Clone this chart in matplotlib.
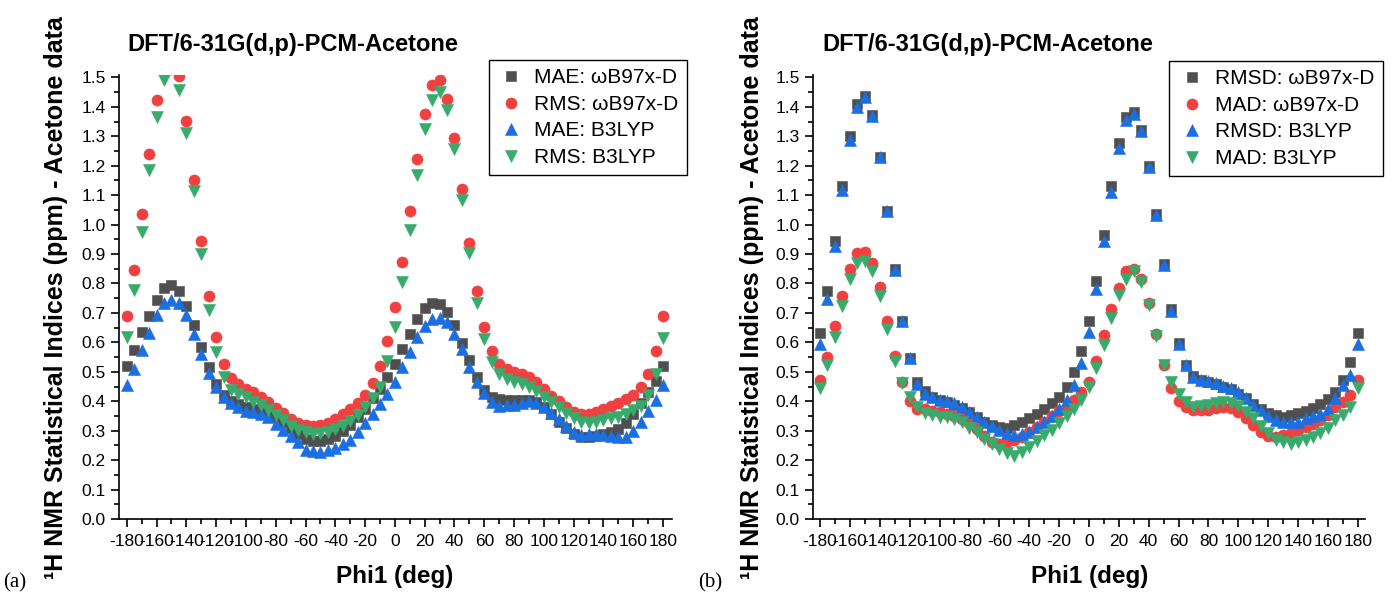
import numpy as np
import matplotlib
matplotlib.use('Agg')
import matplotlib.pyplot as plt
from matplotlib.ticker import MultipleLocator, FormatStrFormatter

plt.rcParams['font.family'] = ['Liberation Sans', 'DejaVu Sans']
plt.rcParams['axes.unicode_minus'] = False

# torsion angle grid, -180..180 every 5 deg
phi = list(range(-180, 185, 5))

# panel (a): MAE / RMS (points above 1.5 are off-scale)
a_mae_wb97 = [0.52, 0.575, 0.635, 0.69, 0.745, 0.785, 0.795, 0.775, 0.725, 0.66, 0.585, 0.515, 0.46,
              0.42, 0.40, 0.39, 0.38, 0.372, 0.365, 0.357, 0.345, 0.33, 0.31, 0.29, 0.272, 0.265, 0.265,
              0.272, 0.283, 0.30, 0.32, 0.345, 0.375, 0.41, 0.44, 0.483, 0.528, 0.579, 0.63, 0.678, 0.715,
              0.734, 0.730, 0.703, 0.658, 0.598, 0.54, 0.483, 0.437, 0.415, 0.406, 0.404, 0.404, 0.404,
              0.403, 0.398, 0.38, 0.355, 0.33, 0.308, 0.29, 0.28, 0.28, 0.283, 0.288, 0.295, 0.305, 0.325,
              0.355, 0.395, 0.432, 0.468, 0.52]
a_rms_wb97 = [0.689, 0.847, 1.037, 1.239, 1.422, 1.54, 1.56, 1.503, 1.352, 1.153, 0.943, 0.757, 0.617,
              0.528, 0.48, 0.457, 0.443, 0.43, 0.415, 0.398, 0.377, 0.36, 0.341, 0.327, 0.318, 0.315, 0.319,
              0.327, 0.338, 0.356, 0.373, 0.394, 0.422, 0.461, 0.52, 0.606, 0.72, 0.873, 1.046, 1.224, 1.377,
              1.473, 1.49, 1.428, 1.295, 1.122, 0.939, 0.776, 0.651, 0.571, 0.528, 0.51, 0.50, 0.492,
              0.482, 0.466, 0.442, 0.417, 0.40, 0.381, 0.365, 0.358, 0.358, 0.363, 0.373, 0.385, 0.395,
              0.407, 0.422, 0.45, 0.494, 0.571, 0.689]
a_mae_b3lyp = [0.455, 0.511, 0.573, 0.632, 0.692, 0.732, 0.745, 0.734, 0.692, 0.63, 0.56, 0.496, 0.449,
               0.415, 0.395, 0.379, 0.368, 0.362, 0.357, 0.345, 0.322, 0.303, 0.282, 0.26, 0.236, 0.231,
               0.228, 0.233, 0.24, 0.254, 0.27, 0.295, 0.325, 0.355, 0.39, 0.425, 0.466, 0.517, 0.568,
               0.617, 0.655, 0.678, 0.681, 0.67, 0.63, 0.576, 0.515, 0.466, 0.427, 0.398, 0.385, 0.386,
               0.388, 0.395, 0.401, 0.394, 0.38, 0.36, 0.339, 0.317, 0.294, 0.285, 0.287, 0.287, 0.284,
               0.281, 0.278, 0.278, 0.299, 0.33, 0.368, 0.405, 0.455]
a_rms_b3lyp = [0.617, 0.779, 0.975, 1.184, 1.367, 1.49, 1.53, 1.458, 1.311, 1.114, 0.899, 0.711, 0.568,
               0.483, 0.438, 0.424, 0.413, 0.398, 0.387, 0.371, 0.352, 0.335, 0.316, 0.302, 0.294, 0.29,
               0.292, 0.296, 0.305, 0.316, 0.334, 0.354, 0.38, 0.41, 0.45, 0.535, 0.652, 0.805, 0.983,
               1.167, 1.326, 1.424, 1.45, 1.388, 1.255, 1.082, 0.902, 0.734, 0.613, 0.534, 0.494, 0.475,
               0.465, 0.457, 0.449, 0.436, 0.415, 0.398, 0.379, 0.359, 0.342, 0.33, 0.327, 0.33, 0.336,
               0.342, 0.347, 0.356, 0.37, 0.385, 0.42, 0.494, 0.615]

# panel (b): RMSD / MAD
b_rmsd_wb97 = [0.632, 0.773, 0.945, 1.132, 1.302, 1.409, 1.435, 1.373, 1.231, 1.045, 0.849, 0.674, 0.547,
               0.467, 0.435, 0.414, 0.403, 0.396, 0.388, 0.377, 0.362, 0.346, 0.331, 0.32, 0.312, 0.31,
               0.318, 0.33, 0.343, 0.358, 0.373, 0.394, 0.416, 0.448, 0.498, 0.569, 0.671, 0.807, 0.965,
               1.132, 1.277, 1.365, 1.381, 1.322, 1.2, 1.037, 0.866, 0.713, 0.598, 0.524, 0.484, 0.472,
               0.465, 0.458, 0.45, 0.44, 0.425, 0.41, 0.392, 0.375, 0.36, 0.352, 0.348, 0.352, 0.36,
               0.368, 0.378, 0.392, 0.407, 0.43, 0.471, 0.532, 0.632]
b_mad_wb97 = [0.473, 0.55, 0.654, 0.756, 0.849, 0.902, 0.908, 0.869, 0.787, 0.674, 0.552, 0.467, 0.40,
              0.375, 0.372, 0.368, 0.362, 0.356, 0.35, 0.34, 0.325, 0.305, 0.283, 0.262, 0.255, 0.26,
              0.268, 0.28, 0.294, 0.312, 0.33, 0.35, 0.368, 0.382, 0.403, 0.43, 0.467, 0.535, 0.626,
              0.713, 0.786, 0.843, 0.849, 0.814, 0.735, 0.63, 0.524, 0.445, 0.40, 0.38, 0.371, 0.369,
              0.37, 0.377, 0.38, 0.377, 0.362, 0.343, 0.32, 0.297, 0.281, 0.278, 0.286, 0.292, 0.303,
              0.312, 0.324, 0.337, 0.354, 0.38, 0.396, 0.422, 0.471]
b_rmsd_b3lyp = [0.595, 0.747, 0.926, 1.116, 1.288, 1.401, 1.432, 1.369, 1.231, 1.045, 0.847, 0.672, 0.547,
                0.46, 0.425, 0.413, 0.405, 0.40, 0.394, 0.38, 0.365, 0.348, 0.331, 0.317, 0.303, 0.292,
                0.286, 0.29, 0.297, 0.312, 0.331, 0.351, 0.373, 0.405, 0.455, 0.53, 0.635, 0.78, 0.943,
                1.112, 1.26, 1.354, 1.376, 1.319, 1.195, 1.033, 0.861, 0.708, 0.596, 0.524, 0.481, 0.473,
                0.468, 0.462, 0.453, 0.445, 0.43, 0.411, 0.388, 0.369, 0.351, 0.337, 0.331, 0.331, 0.328,
                0.343, 0.351, 0.357, 0.373, 0.41, 0.456, 0.49, 0.595]
b_mad_b3lyp = [0.445, 0.524, 0.618, 0.724, 0.815, 0.871, 0.875, 0.841, 0.758, 0.645, 0.535, 0.462, 0.416,
               0.38, 0.36, 0.352, 0.347, 0.345, 0.34, 0.328, 0.31, 0.294, 0.272, 0.254, 0.238, 0.225,
               0.213, 0.227, 0.245, 0.265, 0.285, 0.303, 0.326, 0.35, 0.375, 0.405, 0.45, 0.513, 0.592,
               0.683, 0.762, 0.815, 0.841, 0.805, 0.726, 0.621, 0.524, 0.465, 0.425, 0.398, 0.38, 0.385,
               0.388, 0.394, 0.396, 0.394, 0.385, 0.365, 0.343, 0.317, 0.292, 0.269, 0.26, 0.256, 0.26,
               0.267, 0.278, 0.292, 0.309, 0.337, 0.354, 0.38, 0.445]

labels_a = ['MAE: ωB97x-D', 'RMS: ωB97x-D', 'MAE: B3LYP', 'RMS: B3LYP']
labels_b = ['RMSD: ωB97x-D', 'MAD: ωB97x-D', 'RMSD: B3LYP', 'MAD: B3LYP']
title = 'DFT/6-31G(d,p)-PCM-Acetone'
ylabel = '¹H NMR Statistical Indices (ppm) - Acetone data'

colors = ['#4F4F4F', '#F04040', '#1B6FE0', '#38AA6B']
markers = ['s', 'o', '^', 'v']
msizes = [7.6, 8.0, 8.8, 8.8]

W, H = 1393, 594
fig = plt.figure(figsize=(W / 100, H / 100), dpi=100)


def draw_panel(ax, series, labels, xlim, leg_anchor):
    for vals, lab, c, m, s in zip(series, labels, colors, markers, msizes):
        assert len(vals) == len(phi)
        ax.plot(phi, vals, ls='none', marker=m, ms=s, color=c, mec=c, mew=0.4, label=lab)
    ax.set_xlim(*xlim)
    ax.set_ylim(0, 1.508)
    ax.spines['top'].set_visible(False)
    ax.spines['right'].set_visible(False)
    for sp in ('left', 'bottom'):
        ax.spines[sp].set_linewidth(1.2)
    ax.set_xticks(range(-180, 181, 20))
    ax.xaxis.set_minor_locator(MultipleLocator(10))
    ax.yaxis.set_major_locator(MultipleLocator(0.1))
    ax.yaxis.set_minor_locator(MultipleLocator(0.05))
    ax.yaxis.set_major_formatter(FormatStrFormatter('%.1f'))
    ax.tick_params(which='major', direction='out', length=6, width=1.2, labelsize=12.5)
    ax.tick_params(which='minor', direction='out', length=3.5, width=1.2)
    ax.tick_params(axis='x', pad=5)
    leg = ax.legend(loc='upper right', bbox_to_anchor=leg_anchor, bbox_transform=fig.transFigure,
                    borderaxespad=0, fancybox=False, framealpha=1, edgecolor='black',
                    fontsize=15, labelspacing=0.36, handletextpad=0.4, handlelength=1.4,
                    borderpad=0.4)
    leg.get_frame().set_linewidth(1.0)


ax1 = fig.add_axes([119 / W, 1 - 519 / H, (672 - 119) / W, (519 - 75) / H])
draw_panel(ax1, [a_mae_wb97, a_rms_wb97, a_mae_b3lyp, a_rms_b3lyp], labels_a,
           (-185.2, 186), (687 / W, 1 - 60 / H))

ax2 = fig.add_axes([813 / W, 1 - 519 / H, (1365 - 813) / W, (519 - 75) / H])
draw_panel(ax2, [b_rmsd_wb97, b_mad_wb97, b_rmsd_b3lyp, b_mad_b3lyp], labels_b,
           (-184.7, 184.8), (1383 / W, 1 - 61 / H))

# titles, axis labels and panel letters placed like the original layout
for x0, xc, yl, tag, tx in [(127, 395, 56, '(a)', 3), (822, 1090, 752, '(b)', 698)]:
    fig.text(x0 / W, 1 - 45 / H, title, fontsize=17, fontweight='bold', ha='left', va='center')
    fig.text(xc / W, 1 - 577 / H, 'Phi1 (deg)', fontsize=17.5, fontweight='bold', ha='center', va='center')
    fig.text(yl / W, 1 - 298 / H, ylabel, fontsize=18, fontweight='bold', rotation=90,
             ha='center', va='center')
    fig.text(tx / W, 1 - 583 / H, tag, fontsize=15, family='Liberation Serif', ha='left', va='center')

fig.savefig('out.png', dpi=100)
